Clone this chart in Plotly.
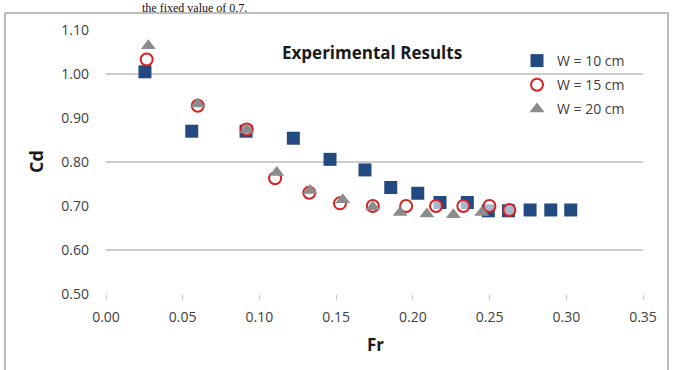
import plotly.graph_objects as go

# W = 10 cm
fr_10 = [0.0254, 0.0559, 0.0913, 0.1221, 0.1460, 0.1688, 0.1856, 0.2032, 0.2177, 0.2355, 0.2492, 0.2623, 0.2764, 0.2899, 0.3029]
cd_10 = [1.005, 0.870, 0.870, 0.854, 0.806, 0.782, 0.742, 0.729, 0.708, 0.708, 0.689, 0.689, 0.691, 0.691, 0.691]
# W = 15 cm
fr_15 = [0.0265, 0.0598, 0.0917, 0.1102, 0.1325, 0.1525, 0.1739, 0.1956, 0.2151, 0.2329, 0.2499, 0.2629]
cd_15 = [1.033, 0.928, 0.874, 0.763, 0.730, 0.706, 0.700, 0.700, 0.700, 0.700, 0.700, 0.691]
# W = 20 cm
fr_20 = [0.0276, 0.0598, 0.0917, 0.1113, 0.1330, 0.1543, 0.1739, 0.1917, 0.2091, 0.2264, 0.2449]
cd_20 = [1.064, 0.932, 0.873, 0.776, 0.735, 0.714, 0.698, 0.685, 0.682, 0.680, 0.685]

x_ticks = [0.00, 0.05, 0.10, 0.15, 0.20, 0.25, 0.30, 0.35]
y_ticks = [0.50, 0.60, 0.70, 0.80, 0.90, 1.00, 1.10]
grid_y = [0.60, 0.80, 1.00]

FONT = "Open Sans"
TXT = "#404040"

fig = go.Figure()
fig.add_trace(go.Scatter(
    x=fr_10, y=cd_10, mode="markers", name="W = 10 cm", legendgroup="a",
    marker=dict(symbol="square", size=13, color="#234A80", line=dict(width=0))))
fig.add_trace(go.Scatter(
    x=fr_15, y=cd_15, mode="markers", name="W = 15 cm", legendgroup="b",
    marker=dict(symbol="circle", size=12, color="rgba(255,255,255,0.6)",
                line=dict(width=2, color="#D42020"))))
fig.add_trace(go.Scatter(
    x=fr_20, y=cd_20, mode="markers", name="W = 20 cm", legendgroup="c",
    marker=dict(symbol="triangle-up", size=13, color="#8C8C8C", line=dict(width=0))))

shapes = []
for g in grid_y:
    shapes.append(dict(type="line", xref="paper", yref="y", x0=0, x1=1, y0=g, y1=g,
                       line=dict(color="#9C9C9C", width=1.2), layer="below"))
# chart border
L, T, W_, H_ = 106, 30, 537, 264
def px(xp):
    return (xp - L) / W_
def py(yp):
    return (T + H_ - yp) / H_
shapes.append(dict(type="rect", xref="paper", yref="paper",
                   x0=px(5), x1=px(668), y0=py(380), y1=py(13),
                   line=dict(color="#A8A8A8", width=1.5), fillcolor="rgba(0,0,0,0)", layer="below"))

fig.update_layout(
    width=674, height=370,
    margin=dict(l=L, r=674 - L - W_, t=T, b=370 - T - H_),
    paper_bgcolor="white", plot_bgcolor="white",
    font=dict(family=FONT, color=TXT, size=13),
    shapes=shapes,
    showlegend=True,
    legend=dict(x=px(517), y=py(45), xanchor="left", yanchor="top",
                font=dict(family=FONT, size=14, color=TXT),
                bgcolor="rgba(0,0,0,0)", tracegroupgap=3, itemsizing="trace"),
    xaxis=dict(range=[0, 0.35], tickvals=x_ticks, tickformat=".2f",
               showgrid=False, zeroline=False, showline=False,
               ticks="outside", ticklen=5, tickcolor="#C8C8C8", tickwidth=1,
               ticklabelstandoff=5,
               tickfont=dict(family=FONT, size=14, color=TXT)),
    yaxis=dict(range=[0.5, 1.1], tickvals=y_ticks, tickformat=".2f",
               showgrid=False, zeroline=False, showline=False,
               ticks="", ticklabelstandoff=16,
               tickfont=dict(family=FONT, size=14, color=TXT)),
    annotations=[
        dict(text="<b>Experimental Results</b>", xref="paper", yref="paper",
             x=px(372), y=py(52), xanchor="center", yanchor="middle", showarrow=False,
             font=dict(family=FONT, size=17, color="#1A1A1A")),
        dict(text="<b>Cd</b>", xref="paper", yref="paper", textangle=-90,
             x=px(36), y=py(162), xanchor="center", yanchor="middle", showarrow=False,
             font=dict(family=FONT, size=18, color="#1A1A1A")),
        dict(text="<b>Fr</b>", xref="paper", yref="paper",
             x=px(375), y=py(344), xanchor="center", yanchor="middle", showarrow=False,
             font=dict(family=FONT, size=17, color="#1A1A1A")),
        dict(text="the fixed value of 0.7.", xref="paper", yref="paper",
             x=px(248), y=py(0), xanchor="right", yanchor="top", showarrow=False,
             borderpad=0,
             font=dict(family="Liberation Serif", size=12, color="#111111")),
    ],
)

fig.write_html("out.html")
